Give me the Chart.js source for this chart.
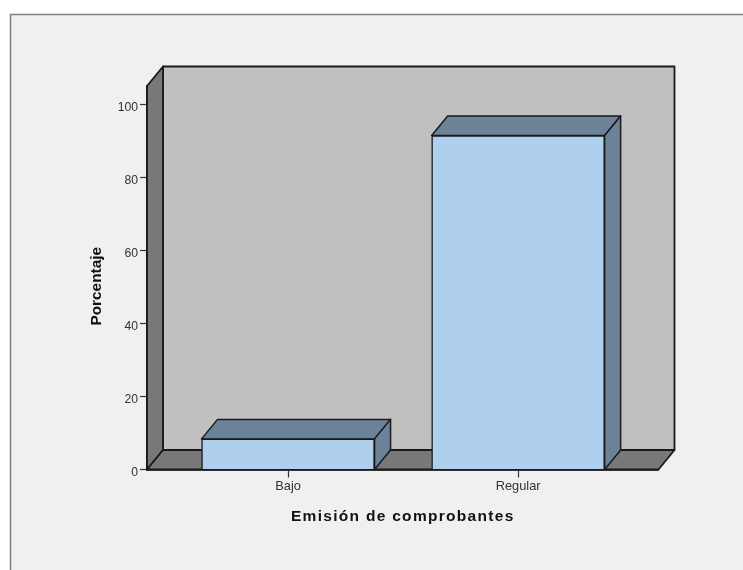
<!DOCTYPE html>
<html>
<head>
<meta charset="utf-8">
<script src="https://cdn.jsdelivr.net/npm/chart.js@4"></script>
<style>
html,body{margin:0;padding:0;background:#fff;overflow:hidden}
#wrap{position:absolute;left:0;top:0;width:743px;height:570px}
canvas{display:block}
</style>
</head>
<body>
<div id="wrap"><canvas id="c" width="743" height="570"></canvas></div>
<script>
const categories = ['Bajo', 'Regular'];
const categoryPositions = [0, 1];
const percentages = [8.4, 91.6];
const yTicks = [0, 20, 40, 60, 80, 100];
const yTitle = 'Porcentaje';
const xTitle = 'Emisión de comprobantes';

const DX = 16, DY = 19.5;
const LINE = '#1a1a1a';

function poly(ctx, pts, fill, stroke, lw) {
  ctx.beginPath();
  pts.forEach((p, i) => i ? ctx.lineTo(p[0], p[1]) : ctx.moveTo(p[0], p[1]));
  ctx.closePath();
  ctx.fillStyle = fill;
  ctx.fill();
  ctx.lineJoin = 'round';
  ctx.lineWidth = lw;
  ctx.strokeStyle = stroke;
  ctx.stroke();
}

const scene = {
  id: 'scene',
  afterLayout(chart) {
    const {x, y} = chart.scales;
    const ctx = chart.ctx;
    const drawX = x.drawTitle, drawY = y.drawTitle;
    x.drawTitle = function () {
      ctx.save();
      ctx.letterSpacing = '1.3px';
      drawX.call(x);
      ctx.restore();
    };
    y.drawTitle = function () {
      ctx.save();
      ctx.translate(0, 8.5);
      drawY.call(y);
      ctx.restore();
    };
  },
  beforeDraw(chart) {
    const ctx = chart.ctx;
    ctx.save();
    ctx.fillStyle = '#ffffff';
    ctx.fillRect(0, 0, 743, 570);
    ctx.fillStyle = '#f0f0f0';
    ctx.fillRect(10, 14, 733, 556);
    ctx.strokeStyle = '#808080';
    ctx.lineWidth = 1.5;
    ctx.beginPath();
    ctx.moveTo(10.5, 570);
    ctx.lineTo(10.5, 14.5);
    ctx.lineTo(743, 14.5);
    ctx.stroke();
    ctx.restore();
  },
  beforeDatasetsDraw(chart) {
    const ctx = chart.ctx;
    const {left: l, right: r, top: t, bottom: b} = chart.chartArea;
    ctx.save();
    poly(ctx, [[l + DX, t - DY], [r + DX, t - DY], [r + DX, b - DY], [l + DX, b - DY]], '#c0c0c0', LINE, 1.8);
    poly(ctx, [[l, t], [l + DX, t - DY], [l + DX, b - DY], [l, b]], '#787878', LINE, 1.8);
    poly(ctx, [[l, b], [l + DX, b - DY], [r + DX, b - DY], [r, b]], '#787878', LINE, 1.8);
    // depth faces of each bar, placed from the library's own bar elements
    chart.getDatasetMeta(0).data.forEach(bar => {
      const x0 = bar.x - bar.width / 2, x1 = bar.x + bar.width / 2, y = bar.y;
      poly(ctx, [[x0, y], [x0 + DX, y - DY], [x1 + DX, y - DY], [x1, y]], '#6b8298', LINE, 1.5);
      poly(ctx, [[x1, y], [x1 + DX, y - DY], [x1 + DX, b - DY], [x1, b]], '#6b8298', LINE, 1.5);
    });
    ctx.restore();
  }
};

new Chart(document.getElementById('c'), {
  type: 'bar',
  data: {
    datasets: [{
      data: categoryPositions.map((x, i) => ({x, y: percentages[i]})),
      backgroundColor: '#aed0ee',
      borderColor: LINE,
      borderWidth: 1.5,
      barThickness: 173
    }]
  },
  plugins: [scene],
  options: {
    responsive: false,
    animation: false,
    devicePixelRatio: 1,
    layout: {padding: {left: 0, right: 84.5, top: 86, bottom: 0}},
    plugins: {legend: {display: false}, tooltip: {enabled: false}},
    scales: {
      x: {
        type: 'linear',
        offset: false,
        min: -0.613,
        max: 1.61,
        afterBuildTicks(s) { s.ticks = categoryPositions.map(value => ({value})); },
        afterFit(s) { s.height = 100.5; },
        grid: {offset: false, drawOnChartArea: false, tickLength: 8, tickColor: '#333', tickWidth: 1.2},
        border: {color: LINE, width: 1.8},
        ticks: {
          autoSkip: false, maxRotation: 0, padding: 1,
          color: '#333', font: {family: 'Liberation Sans', size: 12.8},
          callback: v => categories[v]
        },
        title: {
          display: true, text: xTitle, color: '#111',
          font: {family: 'Liberation Sans', size: 15.5, weight: 'bold'},
          padding: {top: 0, bottom: 44}
        }
      },
      y: {
        min: 0,
        max: 105.2,
        afterBuildTicks(s) { s.ticks = yTicks.map(value => ({value})); },
        afterFit(s) { s.width = 147; },
        grid: {drawOnChartArea: false, tickLength: 7, tickColor: '#333', tickWidth: 1.2},
        border: {color: LINE, width: 1.8},
        ticks: {
          padding: 2, labelOffset: 3,
          color: '#333', font: {family: 'Liberation Sans', size: 12.2}
        },
        title: {
          display: true, text: yTitle, color: '#111',
          font: {family: 'Liberation Sans', size: 15.4, weight: 'bold'},
          padding: {top: 88, bottom: 0}
        }
      }
    }
  }
});
</script>
</body>
</html>
